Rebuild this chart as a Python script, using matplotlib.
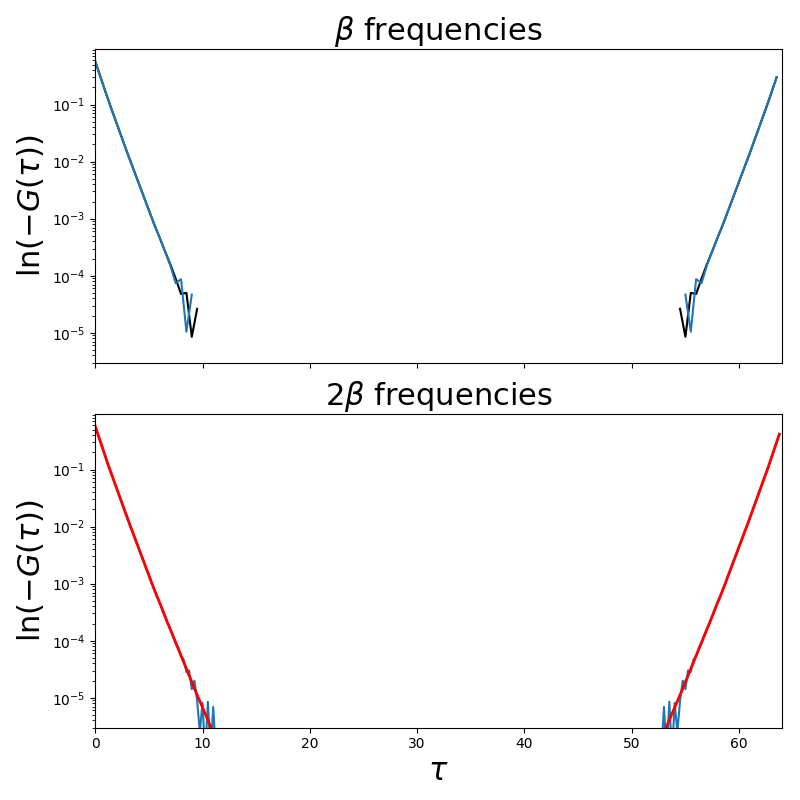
import numpy as np
import matplotlib.pyplot as plt

# imaginary-time grids (left and right tails, gap where -G(tau) <= 0)
tau_top = [0.0, 0.5, 1.0, 1.5, 2.0, 2.5, 3.0, 3.5, 4.0, 4.5, 5.0, 5.5, 6.0, 6.5,
           7.0, 7.5, 8.0, 8.5, 9.0, 9.5, np.nan,
           54.5, 55.0, 55.5, 56.0, 56.5, 57.0, 57.5, 58.0, 58.5, 59.0, 59.5,
           60.0, 60.5, 61.0, 61.5, 62.0, 62.5, 63.0, 63.5]

# log10(-G)
black_top = [-0.24, -0.52, -0.80, -1.07, -1.33, -1.59, -1.85, -2.10, -2.35, -2.60,
             -2.85, -3.10, -3.33, -3.57, -3.80, -4.05, -4.32, -4.30, -5.07, -4.58,
             np.nan,
             -4.58, -5.07, -4.30, -4.32, -4.05, -3.80, -3.57, -3.33, -3.10, -2.85,
             -2.60, -2.35, -2.10, -1.85, -1.59, -1.33, -1.07, -0.80, -0.52]
blue_top = [-0.24, -0.52, -0.80, -1.07, -1.33, -1.59, -1.85, -2.10, -2.35, -2.60,
            -2.85, -3.10, -3.33, -3.57, -3.82, -4.13, -4.06, -4.98, -4.33, np.nan,
            np.nan,
            np.nan, -4.33, -4.98, -4.06, -4.13, -3.82, -3.57, -3.33, -3.10, -2.85,
            -2.60, -2.35, -2.10, -1.85, -1.59, -1.33, -1.07, -0.80, -0.52]

tau_bot = [0.0, 0.25, 0.5, 0.75, 1.0, 1.25, 1.5, 1.75, 2.0, 2.25, 2.5, 2.75, 3.0,
           3.25, 3.5, 3.75, 4.0, 4.25, 4.5, 4.75, 5.0, 5.25, 5.5, 5.75, 6.0, 6.25,
           6.5, 6.75, 7.0, 7.25, 7.5, 7.75, 8.0, 8.25, 8.5, 8.75, 9.0, 9.25, 9.5,
           9.75, 10.0, 10.25, 10.5, 10.75, 11.0, 11.25, np.nan,
           52.75, 53.0, 53.25, 53.5, 53.75, 54.0, 54.25, 54.5, 54.75, 55.0, 55.25,
           55.5, 55.75, 56.0, 56.25, 56.5, 56.75, 57.0, 57.25, 57.5, 57.75, 58.0,
           58.25, 58.5, 58.75, 59.0, 59.25, 59.5, 59.75, 60.0, 60.25, 60.5, 60.75,
           61.0, 61.25, 61.5, 61.75, 62.0, 62.25, 62.5, 62.75, 63.0, 63.25, 63.5,
           63.75]
red_bot = [-0.24, -0.38, -0.52, -0.66, -0.80, -0.94, -1.07, -1.20, -1.33, -1.46,
           -1.59, -1.72, -1.85, -1.98, -2.10, -2.23, -2.35, -2.48, -2.60, -2.73,
           -2.85, -2.98, -3.10, -3.22, -3.33, -3.45, -3.57, -3.69, -3.80, -3.92,
           -4.03, -4.15, -4.26, -4.38, -4.49, -4.61, -4.72, -4.84, -4.95, -5.06,
           -5.17, -5.28, -5.39, -5.50, -5.61, -5.72, np.nan,
           -5.72, -5.61, -5.50, -5.39, -5.28, -5.17, -5.06, -4.95, -4.84, -4.72,
           -4.61, -4.49, -4.38, -4.26, -4.15, -4.03, -3.92, -3.80, -3.69, -3.57,
           -3.45, -3.33, -3.22, -3.10, -2.98, -2.85, -2.73, -2.60, -2.48, -2.35,
           -2.23, -2.10, -1.98, -1.85, -1.72, -1.59, -1.46, -1.33, -1.20, -1.07,
           -0.94, -0.80, -0.66, -0.52, -0.38]
blue_bot = [-0.24, -0.38, -0.52, -0.66, -0.80, -0.94, -1.07, -1.20, -1.33, -1.46,
            -1.59, -1.72, -1.85, -1.98, -2.10, -2.23, -2.35, -2.48, -2.60, -2.73,
            -2.85, -2.98, -3.10, -3.22, -3.33, -3.45, -3.57, -3.69, -3.80, -3.90,
            -4.05, -4.12, -4.28, -4.33, -4.55, -4.52, -4.85, -4.70, -5.05, -5.60,
            -5.09, -6.00, -5.07, -6.00, -5.16, -6.00, np.nan,
            -6.00, -5.16, -6.00, -5.07, -6.00, -5.09, -5.60, -5.05, -4.70, -4.85,
            -4.52, -4.55, -4.33, -4.28, -4.12, -4.05, -3.90, -3.80, -3.69, -3.57,
            -3.45, -3.33, -3.22, -3.10, -2.98, -2.85, -2.73, -2.60, -2.48, -2.35,
            -2.23, -2.10, -1.98, -1.85, -1.72, -1.59, -1.46, -1.33, -1.20, -1.07,
            -0.94, -0.80, -0.66, -0.52, -0.38]

fig, (ax1, ax2) = plt.subplots(2, 1, figsize=(8, 8), dpi=100, sharex=True)
fig.subplots_adjust(left=0.119, right=0.9775, top=0.939, bottom=0.0905, hspace=0.163)

ax1.plot(tau_top, 10 ** np.array(black_top), color="k")
ax1.plot(tau_top, 10 ** np.array(blue_top), color="C0")
ax1.set_yscale("log")
ax1.set_ylim(3e-6, 0.95)
ax1.set_title(r"$\beta$ frequencies", fontsize=22)
ax1.set_ylabel(r"$\ln(-G(\tau))$", fontsize=22)

ax2.plot(tau_bot, 10 ** np.array(blue_bot), color="C0")
ax2.plot(tau_bot, 10 ** np.array(red_bot), color="r", lw=2)
ax2.set_yscale("log")
ax2.set_ylim(3e-6, 0.95)
ax2.set_title(r"$2\beta$ frequencies", fontsize=22)
ax2.set_ylabel(r"$\ln(-G(\tau))$", fontsize=22)
ax2.set_xlabel(r"$\tau$", fontsize=22)
ax2.set_xlim(0, 64)

plt.savefig("out.png")
